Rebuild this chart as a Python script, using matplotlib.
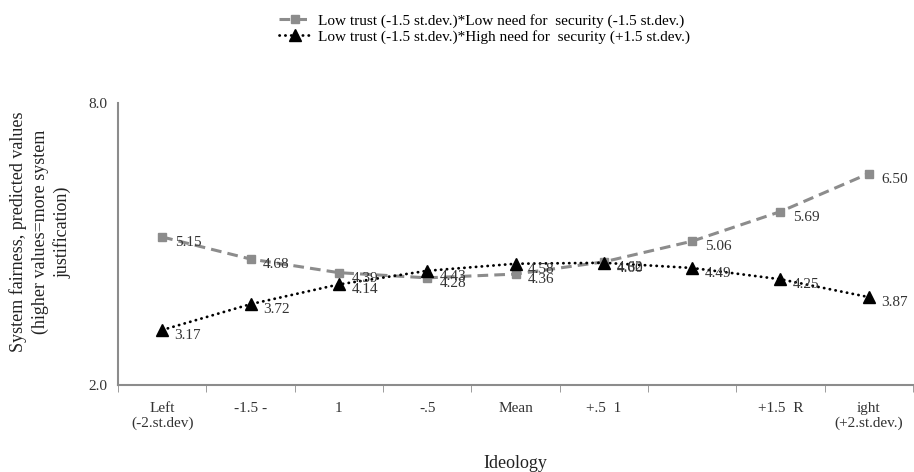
import matplotlib.pyplot as plt
import numpy as np

plt.rcParams['font.family'] = ['Liberation Serif', 'DejaVu Serif']

# tick labels as they appear in the chart
categories = ["Left\n(-2.st.dev)", "-1.5 -", "1", "-.5", "Mean", "+.5  1", "", "+1.5  R", "ight\n(+2.st.dev.)"]
low_need = [5.15, 4.68, 4.39, 4.28, 4.36, 4.62, 5.06, 5.69, 6.50]
high_need = [3.17, 3.72, 4.14, 4.43, 4.58, 4.60, 4.49, 4.25, 3.87]
low_label = "Low trust (-1.5 st.dev.)*Low need for  security (-1.5 st.dev.)"
high_label = "Low trust (-1.5 st.dev.)*High need for  security (+1.5 st.dev.)"

fig = plt.figure(figsize=(9.14, 4.72), dpi=100)
ax = fig.add_axes([118/914, 1 - 385/472, 795/914, 282/472])

x = np.arange(len(categories))
gray = '#8c8c8c'
ax.plot(x, low_need, color=gray, linestyle=(0, (3.5, 2)), linewidth=2.2,
        marker='s', markersize=6, label=low_label)
ax.plot(x, high_need, color='black', linestyle=(0, (0.1, 2.0)), linewidth=2.0,
        marker='^', markersize=8, dash_capstyle='round', label=high_label)

for xi, v in zip(x, low_need):
    ax.annotate(f"{v:.2f}", (xi, v), xytext=(9, -4), textcoords='offset points',
                fontsize=11, color='#333333', va='center')
for xi, v in zip(x, high_need):
    ax.annotate(f"{v:.2f}", (xi, v), xytext=(9, -4), textcoords='offset points',
                fontsize=11, color='#333333', va='center')

ax.set_xlim(-0.5, len(categories) - 0.5)
ax.set_ylim(2.0, 8.0)
ax.set_yticks([2.0, 8.0])
ax.set_yticklabels(["2.0", "8.0"], fontsize=11, color='#333333')
ax.set_xticks(x)
ax.set_xticklabels(categories, fontsize=11, color='#333333')
ax.set_xticks(np.arange(len(categories) + 1) - 0.5, minor=True)
ax.tick_params(axis='x', which='major', length=0, pad=12)
ax.tick_params(axis='x', which='minor', length=5, color=gray)
ax.tick_params(axis='y', length=0, pad=8)

for s in ['top', 'right']:
    ax.spines[s].set_visible(False)
for s in ['left', 'bottom']:
    ax.spines[s].set_color(gray)
    ax.spines[s].set_linewidth(1.5)

ax.set_xlabel("Ideology", fontsize=13, color='#222222', labelpad=18)
fig.text(40/914, 1 - 232/472,
         "System fairness, predicted values\n(higher values=more system\njustification)",
         rotation=90, ha='center', va='center', multialignment='center',
         fontsize=13, color='#222222', linespacing=1.35)

fig.legend(loc='upper center', bbox_to_anchor=(0.53, 1.0), frameon=False,
           fontsize=11, handlelength=2.2, handletextpad=0.4, labelspacing=0.15)

fig.savefig("out.png", dpi=100)
